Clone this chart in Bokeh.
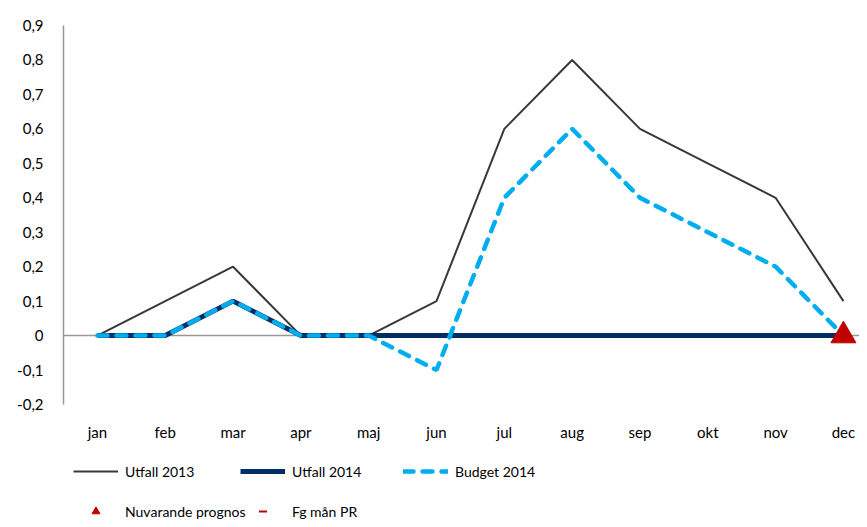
from bokeh.plotting import figure
from bokeh.models import FixedTicker, Span, Legend, LegendItem, Range1d
from bokeh.layouts import column
from bokeh.embed import file_html
from bokeh.resources import INLINE

months = ["jan", "feb", "mar", "apr", "maj", "jun", "jul", "aug", "sep", "okt", "nov", "dec"]
utfall_2013 = [0, 0.1, 0.2, 0, 0, 0.1, 0.6, 0.8, 0.6, 0.5, 0.4, 0.1]
utfall_2014 = [0, 0, 0.1, 0, 0, 0, 0, 0, 0, 0, 0, 0]
budget_2014 = [0, 0, 0.1, 0, 0, -0.1, 0.4, 0.6, 0.4, 0.3, 0.2, 0]
prognos_month = ["dec"]
prognos_value = [0]
fg_man_month = ["dec"]
fg_man_value = [0]
y_ticks = [-0.2, -0.1, 0, 0.1, 0.2, 0.3, 0.4, 0.5, 0.6, 0.7, 0.8, 0.9]
y_tick_labels = ["-0,2", "-0,1", "0", "0,1", "0,2", "0,3", "0,4", "0,5", "0,6", "0,7", "0,8", "0,9"]

FONT = "Lato"
FS = "15px"
W = 859
idx = list(range(len(months)))
mi = {m: i for i, m in enumerate(months)}

STYLE = {
    "u13": dict(line_color="#383838", line_width=2),
    "u14": dict(line_color="#002D62", line_width=5),
    "b14": dict(line_color="#00AEEF", line_width=4.5, line_dash="10 9", line_cap="round"),
    "fg": dict(marker="dash", size=10, line_color="#C00000", line_width=2),
    "np": dict(marker="triangle", size=25, fill_color="#C00000", line_color="#C00000"),
}


def draw_series(fig):
    r13 = fig.line(idx, utfall_2013, **STYLE["u13"])
    r14 = fig.line(idx, utfall_2014, **STYLE["u14"])
    rb = fig.line(idx, budget_2014, **STYLE["b14"])
    rf = fig.scatter([mi[m] for m in fg_man_month], fg_man_value, **STYLE["fg"])
    rp = fig.scatter([mi[m] for m in prognos_month], prognos_value, **STYLE["np"])
    return r13, r14, rb, rf, rp


# ---------------- main chart ----------------
p = figure(width=W, height=461, output_backend="svg", toolbar_location=None,
           x_range=(-0.5, 11.237), y_range=(-0.2, 0.9),
           min_border_left=63, min_border_top=25, min_border_right=0, min_border_bottom=57)
p.outline_line_color = None
p.xgrid.grid_line_color = None
p.ygrid.grid_line_color = None

p.yaxis.ticker = FixedTicker(ticks=y_ticks)
p.yaxis.major_label_overrides = {t: l for t, l in zip(y_ticks, y_tick_labels)}
p.yaxis.axis_line_color = "#969696"
p.yaxis.axis_line_width = 1.5
p.yaxis.major_tick_line_color = None
p.yaxis.minor_tick_line_color = None
p.yaxis.major_label_standoff = 14
p.yaxis.major_label_text_font = FONT
p.yaxis.major_label_text_font_size = FS
p.yaxis.major_label_text_color = "#000000"

p.xaxis.ticker = FixedTicker(ticks=idx)
p.xaxis.major_label_overrides = {i: m for i, m in enumerate(months)}
p.xaxis.axis_line_color = None
p.xaxis.major_tick_line_color = None
p.xaxis.minor_tick_line_color = None
p.xaxis.major_label_standoff = 12
p.xaxis.major_label_text_font = FONT
p.xaxis.major_label_text_font_size = FS
p.xaxis.major_label_text_color = "#000000"

p.add_layout(Span(location=0, dimension="width", line_color="#969696", line_width=1.5,
                  level="underlay"))
draw_series(p)

# ---------------- legend strip ----------------
LH = 58
q = figure(width=W, height=LH, output_backend="svg", toolbar_location=None,
           x_axis_type=None, y_axis_type=None,
           x_range=Range1d(100, 101), y_range=Range1d(100, 101),
           min_border_left=0, min_border_top=0, min_border_right=0, min_border_bottom=0)
q.outline_line_color = None
q.xgrid.grid_line_color = None
q.ygrid.grid_line_color = None
l13, l14, lb, lf, lp = draw_series(q)

common = dict(glyph_width=45, glyph_height=20, label_height=20, label_standoff=7,
              spacing=20, padding=0, margin=0, border_line_color=None,
              background_fill_alpha=0, label_text_font=FONT,
              label_text_font_size="14px", label_text_color="#000000")
col1 = Legend(items=[LegendItem(label="Utfall 2013", renderers=[l13]),
                     LegendItem(label="Nuvarande prognos", renderers=[lp])],
              location=(10, LH - 60), **common)
col2 = Legend(items=[LegendItem(label="Utfall 2014", renderers=[l14]),
                     LegendItem(label="Fg mån PR", renderers=[lf])],
              location=(177, LH - 60), **common)
col3 = Legend(items=[LegendItem(label="Budget 2014", renderers=[lb])],
              location=(340, LH - 20), **common)
for lg in (col1, col2, col3):
    q.add_layout(lg, "center")

layout = column(p, q, spacing=0)
open("out.html", "w").write(file_html(layout, INLINE))
